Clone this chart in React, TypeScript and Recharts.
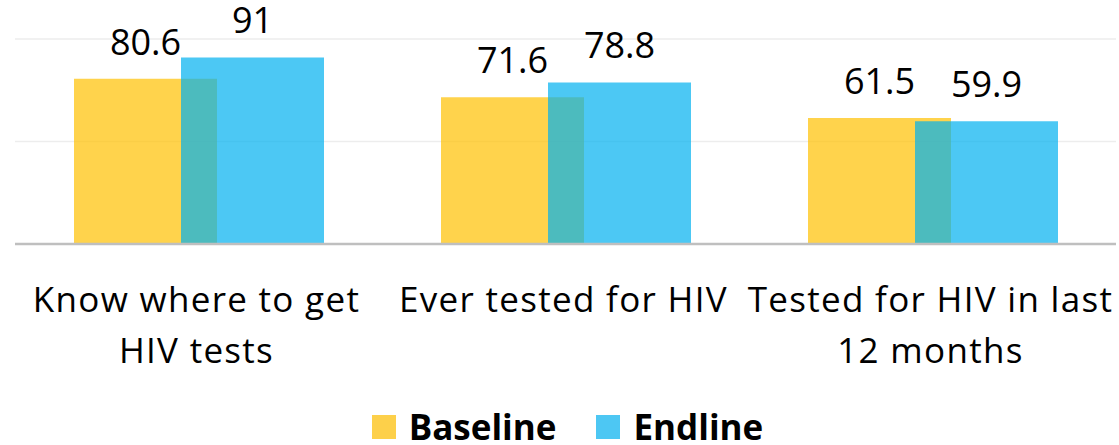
import React from 'react';
import {
  BarChart,
  Bar,
  XAxis,
  YAxis,
  CartesianGrid,
  Legend,
  LabelList,
} from 'recharts';

const categories = [
  'Know where to get HIV tests',
  'Ever tested for HIV',
  'Tested for HIV in last 12 months',
];
const baseline = [80.6, 71.6, 61.5];
const endline = [91, 78.8, 59.9];
const yTicks = [0, 50, 100];

const data = categories.map((name, i) => ({
  name,
  Baseline: baseline[i],
  Endline: endline[i],
}));

const FONT = '"Open Sans", sans-serif';
const TICK_SIZE = 35;
const TICK_SPACING = 1.3;

let ctx: CanvasRenderingContext2D | null = null;
const measure = (s: string) => {
  if (!ctx) ctx = document.createElement('canvas').getContext('2d');
  if (!ctx) return s.length * TICK_SIZE * 0.55;
  ctx.font = `${TICK_SIZE}px ${FONT}`;
  return ctx.measureText(s).width + s.length * TICK_SPACING;
};

// word wrap to the category band width
const wrap = (s: string, maxWidth: number) => {
  const lines: string[] = [];
  let cur = '';
  s.split(' ').forEach((w) => {
    const next = cur ? cur + ' ' + w : w;
    if (cur && measure(next) > maxWidth) {
      lines.push(cur);
      cur = w;
    } else cur = next;
  });
  if (cur) lines.push(cur);
  return lines;
};

const CategoryTick = (props: any) => {
  const { x, y, payload } = props;
  const lines = wrap(String(payload.value), 367);
  return (
    <text
      x={x - 2}
      y={y}
      textAnchor="middle"
      fill="#000"
      style={{ fontFamily: FONT, fontSize: TICK_SIZE, letterSpacing: TICK_SPACING }}
    >
      {lines.map((l, i) => (
        <tspan key={i} x={x - 2} dy={i === 0 ? 60 : 51}>
          {l}
        </tspan>
      ))}
    </text>
  );
};

const LegendContent = (props: any) => {
  const { payload } = props;
  return (
    <div
      style={{
        display: 'flex',
        justifyContent: 'center',
        alignItems: 'center',
        height: 50,
        paddingLeft: 4,
        boxSizing: 'border-box',
        paddingTop: 14,
      }}
    >
      {payload.map((p: any, i: number) => (
        <div key={p.value} style={{ display: 'flex', alignItems: 'center', marginLeft: i ? 40 : 0 }}>
          <span
            style={{
              width: 24,
              height: 24,
              background: p.value === 'Baseline' ? '#FDD04A' : '#4DC7F3',
              display: 'inline-block',
              marginRight: 13,
            }}
          />
          <span style={{ fontFamily: FONT, fontWeight: 700, fontSize: 35, lineHeight: 1.1, color: '#000' }}>
            {p.value}
          </span>
        </div>
      ))}
    </div>
  );
};

export default function App() {
  return (
    <div style={{ position: 'absolute', left: 0, top: 0, width: 1119, height: 445, background: '#fff' }}>
      <BarChart
        width={1119}
        height={445}
        data={data}
        margin={{ top: 39, right: 3, bottom: 0, left: 15 }}
        barGap={-36}
        barSize={143}
      >
        <CartesianGrid vertical={false} stroke="#EDEDED" strokeWidth={1.5} />
        <YAxis hide domain={[0, 100]} ticks={yTicks} />
        <XAxis
          dataKey="name"
          axisLine={{ stroke: '#BFBFBF', strokeWidth: 2.5 }}
          tickLine={false}
          tick={<CategoryTick />}
          height={151}
          interval={0}
        />
        <Legend verticalAlign="bottom" height={50} content={<LegendContent />} />
        <Bar dataKey="Baseline" fill="#FFC000" fillOpacity={0.7} isAnimationActive={false}>
          <LabelList
            dataKey="Baseline"
            position="top"
            offset={24}
            fill="#000"
            style={{ fontFamily: FONT, fontSize: 36 }}
          />
        </Bar>
        <Bar dataKey="Endline" fill="#00B0F0" fillOpacity={0.7} isAnimationActive={false}>
          <LabelList
            dataKey="Endline"
            position="top"
            offset={24}
            fill="#000"
            style={{ fontFamily: FONT, fontSize: 36 }}
          />
        </Bar>
      </BarChart>
    </div>
  );
}
